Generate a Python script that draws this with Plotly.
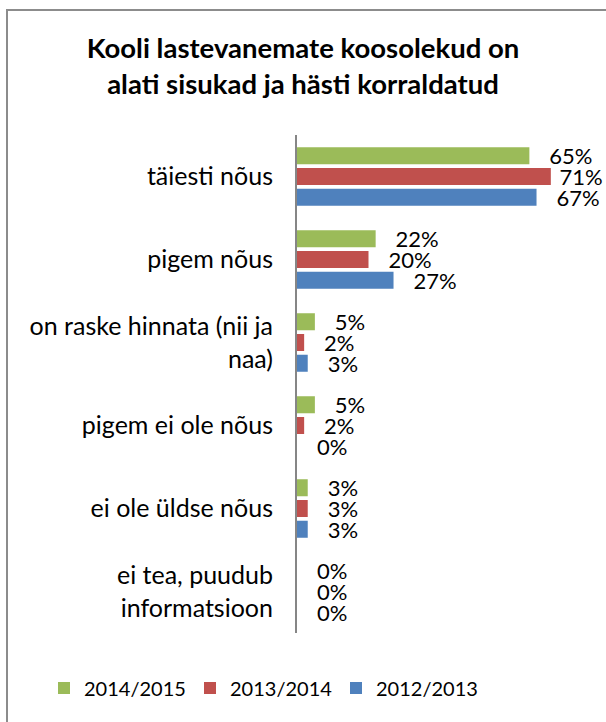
import plotly.graph_objects as go

# Survey answers (share of respondents, %)
categories = [
    "täiesti nõus",
    "pigem nõus",
    "on raske hinnata (nii ja<br>naa)",
    "pigem ei ole nõus",
    "ei ole üldse nõus",
    "ei tea, puudub<br>informatsioon",
]
years = ["2014/2015", "2013/2014", "2012/2013"]
values_2014_2015 = [65, 22, 5, 5, 3, 0]
values_2013_2014 = [71, 20, 2, 2, 3, 0]
values_2012_2013 = [67, 27, 3, 0, 3, 0]
colors = ["#9BBB59", "#C0504D", "#4F81BD"]

series = [values_2014_2015, values_2013_2014, values_2012_2013]

W, H = 606, 722
ML, MR, MT, MB = 297, 23, 135, 89
plot_w = W - ML - MR
plot_h = H - MT - MB
X_MAX = 80
FONT = "Lato, 'Open Sans', sans-serif"


def label(v):
    # labels that would run past the right edge sit closer to their bar
    pad = "\u00a0" if v > 0.85 * X_MAX else "\u00a0\u00a0\u00a0"
    return pad + f"{v}%"


fig = go.Figure()
for name, vals, col in zip(years, series, colors):
    fig.add_trace(go.Bar(
        y=categories,
        x=vals,
        name=name,
        orientation="h",
        marker=dict(color=col, line=dict(width=0)),
        text=[label(v) for v in vals],
        textposition="outside",
        textfont=dict(family=FONT, size=22, color="#000000"),
        constraintext="none",
        cliponaxis=False,
    ))


def px_x(p):
    return (p - ML) / plot_w


def px_y(p):
    return (H - MB - p) / plot_h


# Outer chart frame
fig.add_shape(
    type="rect", xref="paper", yref="paper",
    x0=px_x(7), x1=px_x(640), y0=px_y(760), y1=px_y(10),
    line=dict(color="#8C8C8C", width=2), fillcolor="rgba(0,0,0,0)",
    layer="below",
)

fig.update_layout(
    width=W, height=H,
    margin=dict(l=ML, r=MR, t=MT, b=MB),
    paper_bgcolor="white", plot_bgcolor="white",
    barmode="group", bargap=0.25, bargroupgap=0.18,
    title=dict(
        text="<b>Kooli lastevanemate koosolekud on<br>alati sisukad ja hästi korraldatud</b>",
        x=0.5, xanchor="center", xref="container",
        y=1 - 58 / H, yanchor="middle", yref="container",
        font=dict(family=FONT, size=27.5, color="#000000"),
    ),
    xaxis=dict(
        range=[0, X_MAX], showgrid=False, zeroline=False, showline=False,
        showticklabels=False, ticks="",
    ),
    yaxis=dict(
        autorange="reversed", showgrid=False, zeroline=False,
        showline=True, linecolor="#868686", linewidth=2,
        ticks="", ticklabelstandoff=17,
        tickfont=dict(family=FONT, size=25, color="#000000"),
    ),
    legend=dict(
        orientation="h", xref="paper", yref="paper",
        x=px_x(44), xanchor="left", y=px_y(688), yanchor="middle",
        font=dict(family=FONT, size=20, color="#000000"),
        itemwidth=30, traceorder="normal",
        entrywidth=101, entrywidthmode="pixels",
    ),
    showlegend=True,
)

fig.write_html("out.html")
